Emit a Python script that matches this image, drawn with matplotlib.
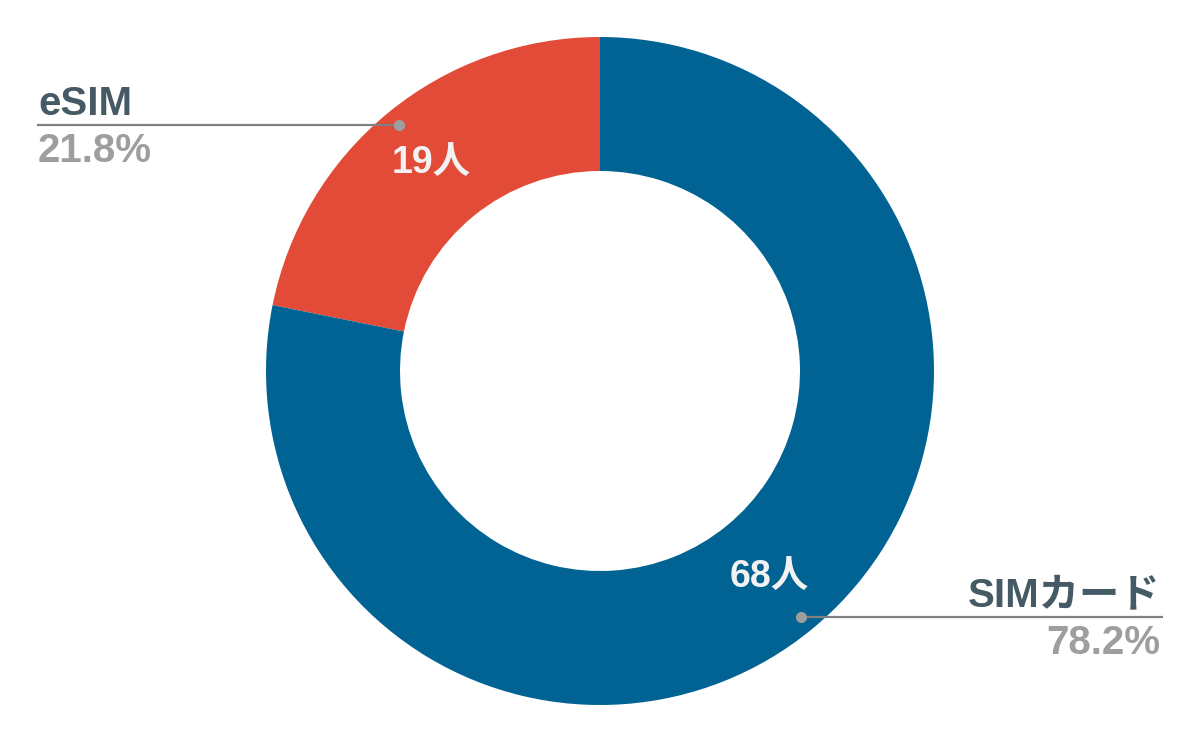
import numpy as np
import matplotlib.pyplot as plt

plt.rcParams['font.family'] = ['Liberation Sans', 'Noto Sans CJK JP']

labels = ['eSIM', 'SIMカード']
counts = [19, 68]
colors = ['#E24B37', '#006393']

W, H = 1200, 742
cx, cy = 600, H - 371
R = 334
ring = 134


def main():
    fig = plt.figure(figsize=(12, 7.42), dpi=100)
    ax = fig.add_axes([0, 0, 1, 1])

    total = sum(counts)
    wedges, _ = ax.pie(counts, colors=colors, startangle=90, counterclock=True,
                       center=(cx, cy), radius=R,
                       wedgeprops=dict(width=ring, linewidth=0))
    # pie resets the limits, so set them afterwards
    ax.set_xlim(0, W)
    ax.set_ylim(0, H)
    ax.set_aspect('equal')
    ax.axis('off')

    for i, (w, lab, n) in enumerate(zip(wedges, labels, counts)):
        mid = np.deg2rad((w.theta1 + w.theta2) / 2)
        # count label in the middle of the ring
        rm = R - ring / 2
        ax.text(cx + rm * np.cos(mid), cy + rm * np.sin(mid), f'{n}人',
                ha='center', va='center', fontsize=27, fontweight='bold',
                color='#F2F2F2')
        # leader line with dot
        rd = R * 0.95
        dx, dy = cx + rd * np.cos(mid), cy + rd * np.sin(mid)
        pct = f'{n / total * 100:.1f}%'
        if np.cos(mid) < 0:
            x_end, ha = 37, 'left'
        else:
            x_end, ha = 1163, 'right'
        ax.plot([dx, x_end], [dy, dy], color='#808080', lw=1.6,
                solid_capstyle='butt', zorder=3)
        ax.plot(dx, dy, 'o', color='#9E9E9E', ms=7, zorder=4)
        tx = x_end + (1 if ha == 'left' else -3)
        ax.text(tx, dy + 10, lab, ha=ha, va='baseline', fontsize=29,
                fontweight='bold', color='#455A64')
        ax.text(tx, dy - 37, pct, ha=ha, va='baseline', fontsize=29,
                fontweight='bold', color='#9E9E9E')

    fig.savefig('out.png', dpi=100)


if __name__ == "__main__":
    main()
